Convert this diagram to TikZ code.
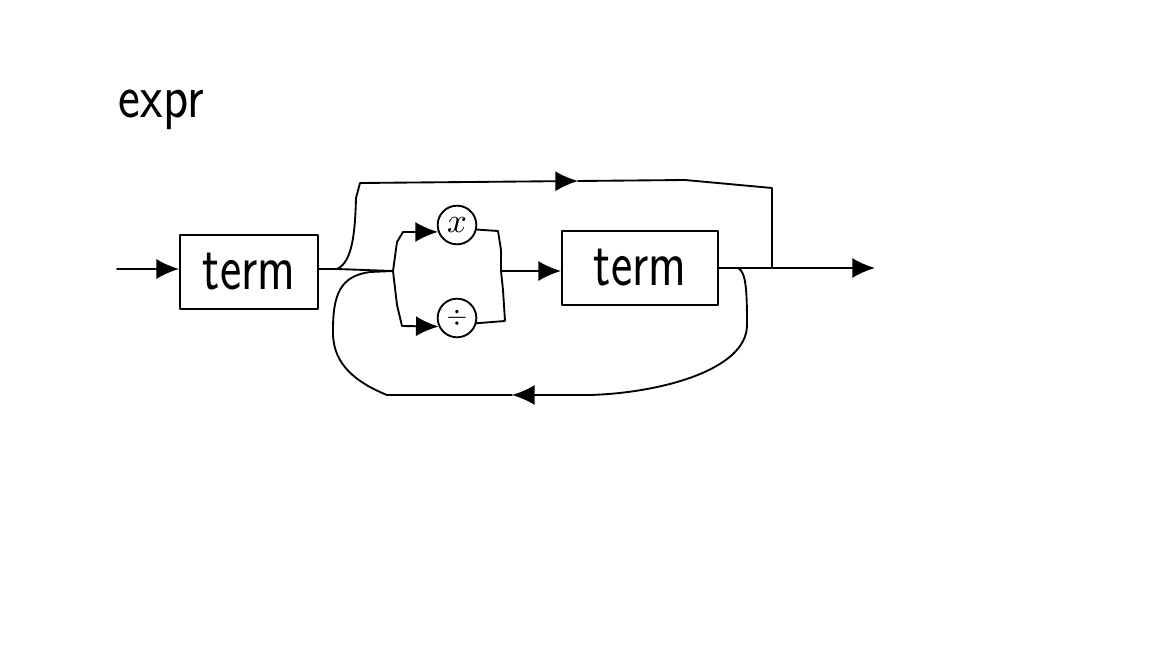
\documentclass[tikz,border=0pt]{standalone}
\usetikzlibrary{arrows.meta}
\begin{document}
\begin{tikzpicture}[x=0.75pt,y=-0.75pt,line width=1.4pt,line join=round,line cap=round,
  tip/.style={-{Latex[length=17pt,width=15pt]}},
  termbox/.style={draw,rectangle,minimum height=55pt,inner sep=0pt,
    font=\sffamily\fontsize{38}{38}\selectfont},
  opcircle/.style={draw,circle,minimum size=29pt,inner sep=0pt}]
\useasboundingbox (0,0) rectangle (1152,648);

% title
\node[anchor=base west,inner sep=0pt,font=\sffamily\fontsize{39}{39}\selectfont]
  (title) at (118,118) {\scalebox{1}[1.2]{expr}};

% boxes and operator circles
\node[termbox,minimum width=103.5pt] (box1) at (249,272) {\scalebox{1}[1.3]{term}};
\node[termbox,minimum width=117pt] (box2) at (640,268) {\scalebox{1}[1.3]{term}};
\node[opcircle] (cmul) at (457,225) {\scalebox{2.6}{$x$}};
\node[opcircle] (cdiv) at (457,318) {\scalebox{2}{$\div$}};

% junctions
\coordinate (start) at (117,269);
\coordinate (j1) at (337,269);
\coordinate (bl) at (393,271);
\coordinate (br) at (501,271);
\coordinate (j2) at (738,268);
\coordinate (xj) at (772,268);
\coordinate (stop) at (875,268);
\coordinate (tm) at (578,181);
\coordinate (lm) at (512,395);

% entry into the first term
\draw[tip] (start) -- (start -| box1.west);
\draw (box1.east |- start) -- (j1) -- (bl);

% bypass over the repetition
\draw[tip] (j1) .. controls (352,262) and (355,235) .. (356,198) -- (360,183) -- (tm);
\draw (tm) -- (685,180) -- (xj |- 0,188) -- (xj);

% choice between the two operators
\draw[tip] (bl) -- (397,242) -- (403,232) -- (cmul.200);
\draw (cmul.-13) -- (498,231) -- (501,250) -- (br);
\draw[tip] (bl) -- (397,305) -- (402,326) -- (cdiv.205);
\draw (cdiv.-15) -- (505,321) -- (503,290) -- (br);

% second term
\draw[tip] (br) -- (br -| box2.west);

% exit
\draw (box2.east |- xj) -- (xj);
\draw[tip] (xj) -- (stop);

% loop back for the next operator
\draw[tip] (j2) .. controls (746,272) and (747,290) .. (747,325)
  .. controls (747,370) and (660,393) .. (590,395) -- (lm);
\draw (lm) -- (387,395) .. controls (350,380) and (332,360) .. (333,330)
  .. controls (333,295) and (340,276) .. (370,272) -- (bl);
\end{tikzpicture}
\end{document}
